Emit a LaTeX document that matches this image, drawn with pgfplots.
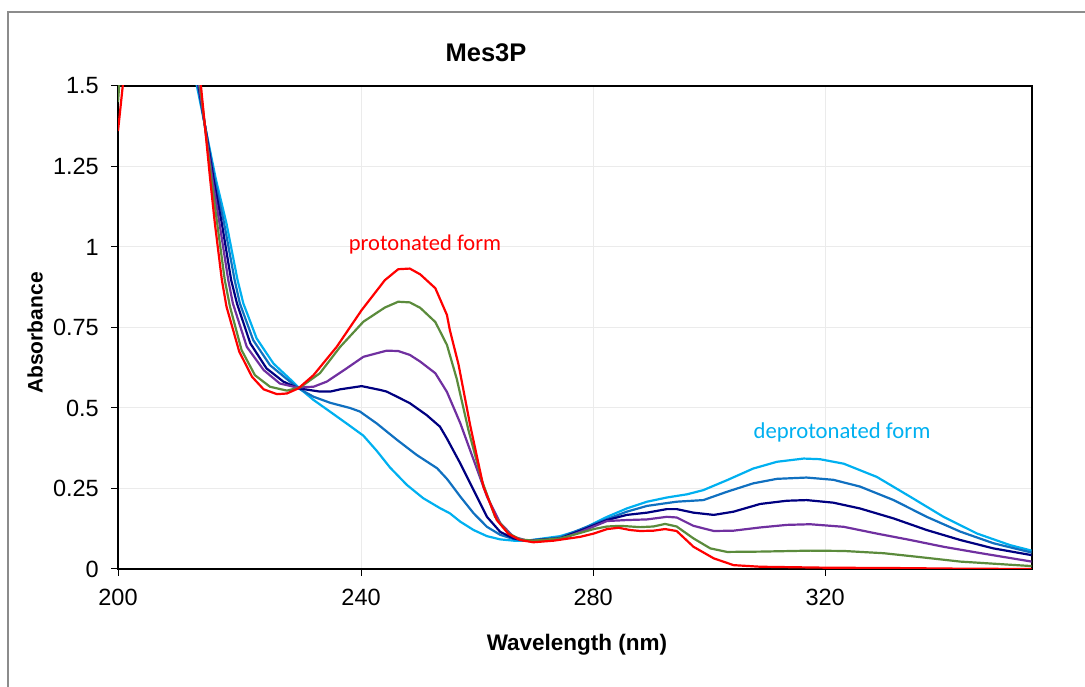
\documentclass[border=0pt]{standalone}
\usepackage{fontspec}
\setmainfont{Liberation Sans}
\newfontfamily\calibri{Carlito}
\usepackage{pgfplots}
\pgfplotsset{compat=1.18}
\usepackage{pgfplotstable}
\definecolor{cRed}{HTML}{FF0000}
\definecolor{cGreen}{HTML}{5B8B3C}
\definecolor{cPurple}{HTML}{7030A0}
\definecolor{cNavy}{HTML}{000080}
\definecolor{cBlue}{HTML}{1070C0}
\definecolor{cLBlue}{HTML}{00B0F0}

\pgfplotstableread{
x y
198.1 1.36
199.5 1.60
211.85 1.60
214.0 1.208
214.8 1.073
216.0 0.898
216.8 0.815
219.0 0.675
221.2 0.597
223.2 0.558
225.5 0.543
227.2 0.545
229.2 0.561
231.8 0.602
235.8 0.690
240.1 0.804
244.1 0.897
246.4 0.931
248.4 0.933
250.2 0.915
252.8 0.872
254.8 0.789
255.3 0.742
256.8 0.635
258.8 0.447
261.1 0.255
263.4 0.152
265.4 0.109
267.4 0.090
269.7 0.083
273.2 0.088
277.8 0.100
280.1 0.110
282.4 0.124
284.4 0.128
286.4 0.121
288.1 0.118
290.4 0.119
292.4 0.124
294.4 0.118
297.3 0.069
300.8 0.033
304.2 0.012
308.8 0.007
320.3 0.004
331.8 0.003
343.3 0.001
355.6 0.000
}\tRed

\pgfplotstableread{
x y
198.1 1.45
198.7 1.60
211.58 1.60
214.2 1.208
215.2 1.073
216.5 0.898
217.4 0.815
219.4 0.680
221.7 0.602
224.3 0.566
227.2 0.554
229.5 0.564
232.9 0.608
236.4 0.690
240.4 0.768
244.1 0.812
246.4 0.830
248.4 0.828
250.2 0.811
252.8 0.767
254.8 0.696
256.5 0.590
258.5 0.432
260.8 0.276
263.1 0.162
265.4 0.111
267.4 0.092
269.7 0.088
274.3 0.095
276.0 0.103
280.1 0.124
282.4 0.132
284.7 0.134
288.1 0.130
290.4 0.132
292.4 0.140
294.4 0.132
297.3 0.095
300.2 0.064
303.1 0.053
308.8 0.054
317.4 0.057
323.2 0.056
330.1 0.049
335.3 0.039
343.3 0.023
355.6 0.009
}\tGreen

\pgfplotstableread{
x y
198.1 1.52
198.4 1.60
211.31 1.60
214.4 1.208
215.6 1.073
217.1 0.898
217.9 0.825
220.3 0.690
223.2 0.618
226.0 0.576
228.9 0.564
231.8 0.566
234.1 0.582
237.5 0.623
240.4 0.659
244.4 0.678
246.4 0.677
248.4 0.665
250.2 0.644
252.8 0.608
254.8 0.550
257.1 0.453
259.4 0.339
261.7 0.225
264.0 0.142
266.3 0.100
268.6 0.088
274.3 0.092
278.2 0.118
282.4 0.149
285.8 0.152
289.3 0.154
292.7 0.162
294.4 0.160
297.3 0.134
300.8 0.118
304.2 0.119
308.8 0.129
313.4 0.137
317.4 0.139
323.2 0.131
328.9 0.110
334.7 0.090
340.4 0.069
346.2 0.051
355.6 0.023
}\tPurple

\pgfplotstableread{
x y
198.1 1.55
198.3 1.60
211.11 1.60
214.6 1.208
216.0 1.073
217.6 0.898
218.6 0.825
220.9 0.701
223.7 0.623
226.6 0.582
229.2 0.561
232.9 0.551
234.7 0.551
236.4 0.558
240.1 0.568
243.3 0.556
244.4 0.551
246.2 0.535
248.4 0.515
251.3 0.478
253.6 0.442
254.8 0.405
257.1 0.328
259.4 0.245
261.7 0.162
264.0 0.115
266.3 0.095
268.6 0.088
274.3 0.095
278.2 0.122
282.4 0.152
285.8 0.168
289.3 0.175
292.7 0.186
294.4 0.186
297.3 0.175
300.8 0.168
304.2 0.178
308.8 0.202
313.4 0.212
316.8 0.214
321.4 0.206
326.0 0.188
331.8 0.157
337.5 0.121
343.3 0.090
349.0 0.064
355.6 0.043
}\tNavy

\pgfplotstableread{
x y
198.1 1.60
210.84 1.60
214.8 1.208
216.4 1.073
218.2 0.898
219.1 0.825
221.4 0.711
224.3 0.633
227.2 0.590
229.2 0.561
231.8 0.535
234.7 0.516
238.1 0.500
239.8 0.489
242.7 0.452
246.2 0.401
249.6 0.354
253.1 0.313
254.8 0.280
257.1 0.225
259.4 0.173
261.7 0.131
264.0 0.106
266.3 0.093
268.6 0.088
274.3 0.098
278.2 0.126
282.4 0.155
285.8 0.178
289.3 0.196
294.4 0.209
299.0 0.214
303.1 0.240
307.6 0.266
311.7 0.280
316.8 0.284
321.4 0.277
326.0 0.256
331.8 0.214
337.5 0.162
343.3 0.116
349.0 0.080
355.6 0.051
}\tBlue

\pgfplotstableread{
x y
198.1 1.60
210.57 1.60
215.0 1.208
216.8 1.073
218.7 0.898
219.7 0.825
222.0 0.716
224.9 0.638
227.8 0.589
229.2 0.564
231.8 0.525
234.7 0.488
237.5 0.452
240.4 0.414
242.7 0.367
245.0 0.315
247.9 0.261
250.7 0.220
253.6 0.189
255.3 0.173
257.1 0.147
259.4 0.121
261.7 0.102
264.0 0.092
266.3 0.088
268.6 0.088
274.3 0.102
277.8 0.121
282.4 0.162
285.8 0.188
289.3 0.209
292.7 0.222
296.2 0.232
299.0 0.245
303.1 0.276
307.6 0.312
311.7 0.333
316.3 0.343
319.1 0.341
323.2 0.327
328.9 0.286
334.7 0.224
340.4 0.162
346.2 0.110
351.9 0.074
355.6 0.057
}\tLBlue

\begin{document}
\begin{tikzpicture}[x=1pt,y=1pt]
\useasboundingbox (0,0) rectangle (1085,686);
\draw[black!45, line width=1.2pt] (8,-5) -- (8,674) -- (1095,674);
\begin{axis}[
  at={(118pt,117pt)}, anchor=south west,
  scale only axis, width=913.7pt, height=483pt,
  xmin=198.1, xmax=355.6, ymin=0, ymax=1.5,
  xtick={198.1,240,280,320}, xticklabels={200,240,280,320},
  ytick={0,0.25,0.5,0.75,1,1.25,1.5},
  yticklabels={0,0.25,0.5,0.75,1,1.25,1.5},
  /pgf/number format/assume math mode=true,
  tick align=outside, tick pos=left, major tick length=7pt,
  tick style={black, line width=1pt},
  axis line style={black, line width=1.8pt},
  grid=major, major grid style={black!8, line width=1pt},
  ticklabel style={font=\fontsize{23.5}{28}\selectfont, inner sep=2pt},
  yticklabel style={xshift=-10pt},
  xticklabel style={yshift=-11pt},
  clip=true,
  every axis plot/.append style={line width=2.2pt, line join=round},
]
\addplot[cLBlue] table {\tLBlue};
\addplot[cBlue] table {\tBlue};
\addplot[cNavy] table {\tNavy};
\addplot[cPurple] table {\tPurple};
\addplot[cGreen] table {\tGreen};
\addplot[cRed] table {\tRed};
\end{axis}
\node[font=\fontsize{25.5}{30}\selectfont\bfseries] at (486,633) {Mes3P};
\node[font=\fontsize{22.5}{27}\selectfont\bfseries] at (577,41) {Wavelength (nm)};
\node[font=\fontsize{21}{25}\selectfont\bfseries, rotate=90] at (35,353) {Absorbance};
\node[text=cRed, font=\calibri\fontsize{22.5}{27}\selectfont] at (425,441) {protonated form};
\node[text=cLBlue, font=\calibri\fontsize{22.7}{27}\selectfont] at (842,254) {deprotonated form};
\end{tikzpicture}
\end{document}
